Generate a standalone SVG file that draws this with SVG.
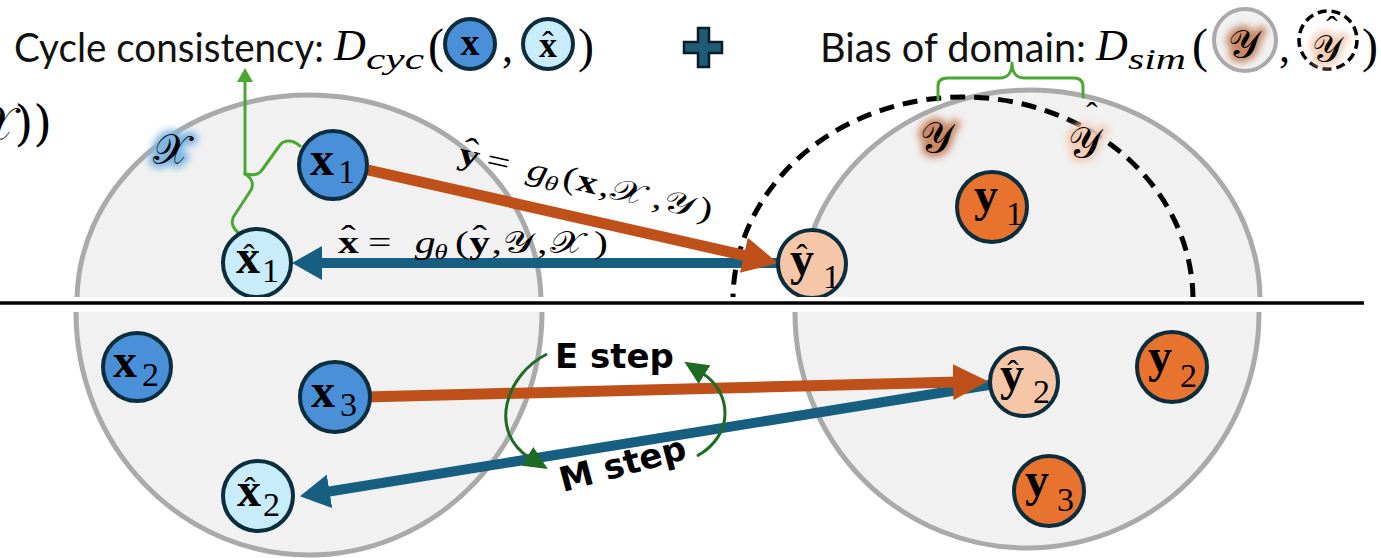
<svg xmlns="http://www.w3.org/2000/svg" width="1381" height="558" viewBox="0 0 1381 558">
<defs>
<style>
.sans{font-family:Lato,"Liberation Sans",sans-serif;fill:#111;font-size:40px}
.m{font-family:"Liberation Serif","DejaVu Serif",serif;fill:#000}
.mi{font-family:"Liberation Serif","DejaVu Serif",serif;font-style:italic;fill:#000}
.mb{font-family:"Liberation Serif","DejaVu Serif",serif;font-weight:bold;fill:#000}
.cal{font-family:"DejaVu Serif","DejaVu Sans","Noto Sans","Liberation Serif",serif;fill:#000}
.dom{fill:#f1f1f1;stroke:#aaaaaa;stroke-width:5}
.nd{stroke:#0c2d3d;stroke-width:4}
.nx{fill:#4a90d9}.nxh{fill:#c8ecfa}.ny{fill:#e8732f}.nyh{fill:#f5c6a8}
.lab{font-family:"Liberation Serif","DejaVu Serif",serif;font-weight:bold;font-size:48px;fill:#000}
.sub{font-family:"Liberation Serif","DejaVu Serif",serif;font-size:34px;fill:#000}
.hat{font-family:"Liberation Serif","DejaVu Serif",serif;font-size:34px;fill:#000;text-anchor:middle}
.step{font-family:"DejaVu Sans",sans-serif;font-weight:bold;font-size:34px;fill:#000}
.glowB{stroke:#7fb6e3;stroke-width:9;fill:#7fb6e3;filter:url(#blur)}
.glowO{stroke:#c98868;stroke-width:9;fill:#c98868;filter:url(#blur)}
.glowP{stroke:#f3cdb8;stroke-width:9;fill:#f3cdb8;filter:url(#blur)}
.brace{fill:none;stroke:#4aa832;stroke-width:3;stroke-linecap:round;stroke-linejoin:round}
.cyc{fill:none;stroke:#1e6b23;stroke-width:3}
</style>
<filter id="blur" x="-50%" y="-50%" width="200%" height="200%"><feGaussianBlur stdDeviation="3.5"/></filter>
<clipPath id="top"><rect x="0" y="0" width="1381" height="297"/></clipPath>
<clipPath id="bot"><rect x="0" y="312" width="1381" height="246"/></clipPath>
<marker id="ahO" markerUnits="userSpaceOnUse" markerWidth="35" markerHeight="36" viewBox="0 0 35 36" refX="5" refY="18" orient="auto"><path d="M0,0 L35,18 L0,36 z" fill="#c0501a"/></marker>
<marker id="ahB" markerUnits="userSpaceOnUse" markerWidth="30" markerHeight="34" viewBox="0 0 30 34" refX="5" refY="17" orient="auto"><path d="M0,0 L30,17 L0,34 z" fill="#175f80"/></marker>
<marker id="ahG" markerUnits="userSpaceOnUse" markerWidth="14" markerHeight="16" viewBox="0 0 14 16" refX="2" refY="8" orient="auto"><path d="M0,0 L14,8 L0,16 z" fill="#4aa832"/></marker>
<marker id="ahD" markerUnits="userSpaceOnUse" markerWidth="24" markerHeight="22" viewBox="0 0 24 22" refX="3" refY="11" orient="auto"><path d="M0,0 L24,11 L0,22 z" fill="#1e6b23"/></marker>
</defs>
<rect width="1381" height="558" fill="#fff"/>

<!-- domains -->
<g id="domains">
<g clip-path="url(#top)">
<ellipse class="dom" cx="309" cy="302" rx="232" ry="207"/>
<ellipse class="dom" cx="1030" cy="300" rx="230" ry="210"/>
</g>
<g clip-path="url(#bot)">
<ellipse class="dom" cx="309" cy="312" rx="233" ry="243"/>
<ellipse class="dom" cx="1027" cy="313" rx="232" ry="235"/>
</g>
<g clip-path="url(#top)">
<ellipse cx="963" cy="300" rx="230" ry="203" fill="none" stroke="#000" stroke-width="5" stroke-dasharray="15 9"/>
</g>
<line x1="0" y1="303" x2="1364" y2="303" stroke="#000" stroke-width="3.5"/>
</g>

<!-- title -->
<g id="title-cycle">
<text class="sans" x="14" y="62" textLength="310" lengthAdjust="spacingAndGlyphs">Cycle consistency:</text>
<text class="mi" x="334" y="60" font-size="44">D</text>
<text class="mi" x="366" y="69" font-size="30" textLength="58" lengthAdjust="spacingAndGlyphs">cyc</text>
<text class="m" x="428" y="62" font-size="48">(</text>
<circle cx="470" cy="44" r="25" class="nd nx"/>
<text class="mb" x="470" y="55" font-size="38" text-anchor="middle">x</text>
<text class="m" x="502" y="62" font-size="44">,</text>
<circle cx="548" cy="44" r="25" class="nd nxh"/>
<text class="mb" x="548" y="57" font-size="36" text-anchor="middle">x</text>
<text class="hat" x="548" y="55" font-size="28">ˆ</text>
<text class="m" x="578" y="62" font-size="48">)</text>
</g>
<g id="plus">
<path d="M698,28 H709 V42 H722 V53 H709 V67 H698 V53 H684 V42 H698 Z" fill="#1f5a76" stroke="#081c27" stroke-width="2.5"/>
</g>
<g id="title-bias">
<text class="sans" x="820" y="62" textLength="266" lengthAdjust="spacingAndGlyphs">Bias of domain:</text>
<text class="mi" x="1096" y="60" font-size="44">D</text>
<text class="mi" x="1128" y="69" font-size="30" textLength="58" lengthAdjust="spacingAndGlyphs">sim</text>
<text class="m" x="1192" y="62" font-size="48">(</text>
<circle cx="1245" cy="40" r="31" fill="#f1f1f1" stroke="#aaaaaa" stroke-width="4"/>
<text class="cal glowO" x="1228" y="58" font-size="40">𝒴</text>
<text class="cal" x="1228" y="58" font-size="40">𝒴</text>
<text class="m" x="1279" y="62" font-size="44">,</text>
<circle cx="1328" cy="40" r="29" fill="#fff" stroke="#000" stroke-width="3.5" stroke-dasharray="9 5"/>
<text class="cal glowP" x="1312" y="62" font-size="38">𝒴</text>
<text class="cal" x="1312" y="62" font-size="38">𝒴</text>
<text class="hat" x="1332" y="40" font-size="28">ˆ</text>
<text class="m" x="1362" y="62" font-size="48">)</text>
</g>

<!-- clipped formula remnant at left edge -->
<text class="cal" x="52" y="140" font-size="48" text-anchor="end">𝒳))</text>

<!-- set labels -->
<g id="label-X">
<text class="cal glowB" x="153" y="164" font-size="42">𝒳</text>
<text class="cal" x="153" y="164" font-size="42">𝒳</text>
</g>
<g id="label-Y">
<text class="cal glowO" x="920" y="152" font-size="42">𝒴</text>
<text class="cal" x="920" y="152" font-size="42">𝒴</text>
</g>
<g id="label-Yhat">
<text class="cal glowP" x="1068" y="157" font-size="42">𝒴</text>
<text class="cal" x="1068" y="157" font-size="42">𝒴</text>
<text class="hat" x="1092" y="126" font-size="30">ˆ</text>
</g>

<!-- braces -->
<g id="brace-cycle">
<path class="brace" d="M300,146 C292,139 284,140 280,145 L262,170 C258,176 252,175 245,174 M245,174 C252,178 254,184 251,190 L234,216 C230,222 233,229 240,234"/>
<path class="brace" d="M245,174 L245,80" marker-end="url(#ahG)"/>
</g>
<g id="brace-domain">
<path class="brace" d="M938,100 L938,86 C938,80 942,78 948,78 L1000,78 C1008,78 1012,72 1012,63 C1012,72 1016,78 1024,78 L1074,78 C1080,78 1083,81 1083,87 L1083,97"/>
</g>

<!-- connectors -->
<g id="connectors">
<line x1="800" y1="263" x2="317" y2="263" stroke="#175f80" stroke-width="10" marker-end="url(#ahB)"/>
<line x1="368" y1="170" x2="748.7" y2="256.4" stroke="#c0501a" stroke-width="11" marker-end="url(#ahO)"/>
<line x1="995" y1="384" x2="324.6" y2="492.2" stroke="#175f80" stroke-width="10" marker-end="url(#ahB)"/>
<line x1="365" y1="397" x2="958" y2="382" stroke="#c0501a" stroke-width="11" marker-end="url(#ahO)"/>
</g>

<!-- equations -->
<g id="eq-forward" transform="translate(457,163) rotate(12.8) scale(1.3,1)">
<text class="mb" x="0" y="0" font-size="32">y</text>
<text class="hat" x="8" y="-4" font-size="26">ˆ</text>
<text class="m" x="22" y="0" font-size="32">=</text>
<text class="mi" x="54" y="0" font-size="32">g</text>
<text class="mi" x="69" y="6" font-size="21">θ</text>
<text class="m" x="82" y="0" font-size="32">(</text>
<text class="mb" x="93" y="0" font-size="32">x</text>
<text class="m" x="111" y="0" font-size="32">,</text>
<text class="cal" x="120" y="0" font-size="30">𝒳</text>
<text class="m" x="153" y="0" font-size="32">,</text>
<text class="cal" x="162" y="0" font-size="30">𝒴</text>
<text class="m" x="189" y="0" font-size="32">)</text>
</g>
<g id="eq-backward" transform="translate(338,253) scale(1.3,1)">
<text class="mb" x="0" y="0" font-size="32">x</text>
<text class="hat" x="8" y="-4" font-size="26">ˆ</text>
<text class="m" x="23" y="0" font-size="32">=</text>
<text class="mi" x="59" y="0" font-size="32">g</text>
<text class="mi" x="74" y="6" font-size="21">θ</text>
<text class="m" x="90" y="0" font-size="32">(</text>
<text class="mb" x="101" y="0" font-size="32">y</text>
<text class="hat" x="109" y="-4" font-size="26">ˆ</text>
<text class="m" x="118" y="0" font-size="32">,</text>
<text class="cal" x="127" y="0" font-size="30">𝒴</text>
<text class="m" x="153" y="0" font-size="32">,</text>
<text class="cal" x="163" y="0" font-size="30">𝒳</text>
<text class="m" x="197" y="0" font-size="32">)</text>
</g>

<!-- EM cycle -->
<g id="em-cycle">
<path class="cyc" d="M547,354 C505,375 488,432 530,458" marker-end="url(#ahD)"/>
<path class="cyc" d="M697,456 C735,435 732,392 702,373" marker-end="url(#ahD)"/>
<text class="step" x="555" y="368">E step</text>
<text class="step" transform="translate(563,492) rotate(-15)">M step</text>
</g>

<!-- nodes -->
<g clip-path="url(#top)">
<g id="node-x1"><circle cx="333" cy="165" r="34" class="nd nx"/><text class="lab" x="310" y="175">x</text><text class="sub" x="338" y="183">1</text></g>
<g id="node-xhat1"><circle cx="257" cy="263" r="34" class="nd nxh"/><text class="lab" x="236" y="273">x</text><text class="hat" x="249" y="268">ˆ</text><text class="sub" x="262" y="282">1</text></g>
<g id="node-yhat1"><circle cx="812" cy="264" r="34" class="nd nyh"/><text class="lab" x="790" y="275">y</text><text class="hat" x="802" y="268">ˆ</text><text class="sub" x="823" y="288">1</text></g>
<g id="node-y1"><circle cx="992" cy="207" r="35" class="nd ny"/><text class="lab" x="974" y="211">y</text><text class="sub" x="1006" y="225">1</text></g>
</g>
<g id="node-x2"><circle cx="137" cy="367" r="34" class="nd nx"/><text class="lab" x="113" y="377">x</text><text class="sub" x="142" y="386">2</text></g>
<g id="node-x3"><circle cx="335" cy="397" r="35" class="nd nx"/><text class="lab" x="311" y="407">x</text><text class="sub" x="340" y="416">3</text></g>
<g id="node-xhat2"><circle cx="258" cy="496" r="35" class="nd nxh"/><text class="lab" x="237" y="506">x</text><text class="hat" x="250" y="501">ˆ</text><text class="sub" x="263" y="516">2</text></g>
<g id="node-yhat2"><circle cx="1024" cy="382" r="34" class="nd nyh"/><text class="lab" x="1000" y="390">y</text><text class="hat" x="1013" y="384">ˆ</text><text class="sub" x="1033" y="403">2</text></g>
<g id="node-y2"><circle cx="1172" cy="367" r="35" class="nd ny"/><text class="lab" x="1148" y="372">y</text><text class="sub" x="1180" y="387">2</text></g>
<g id="node-y3"><circle cx="1049" cy="491" r="35" class="nd ny"/><text class="lab" x="1025" y="496">y</text><text class="sub" x="1057" y="511">3</text></g>
</svg>
